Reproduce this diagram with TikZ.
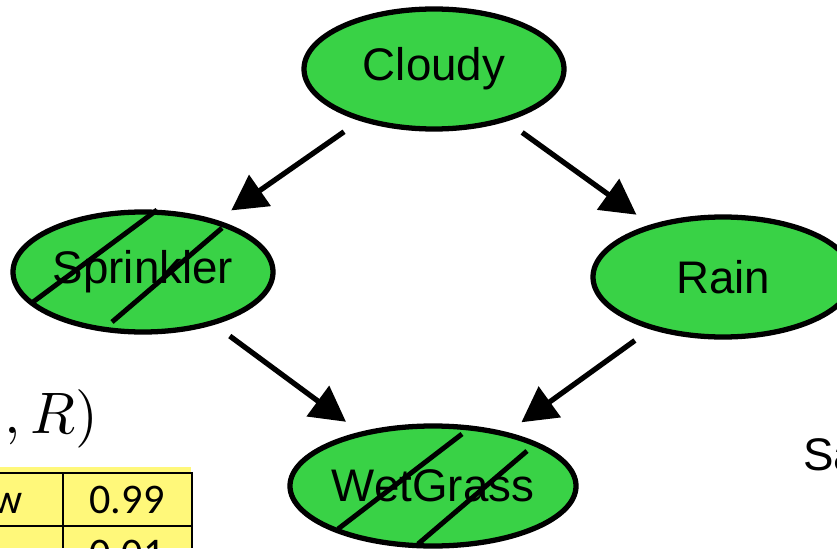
\documentclass[tikz,border=0pt]{standalone}
\usepackage{amsmath}
\usepackage{fontspec}
\newfontfamily\arialf{Liberation Sans}
\newfontfamily\calibrif{Carlito}
\usepackage{tikz}
\usetikzlibrary{arrows.meta,shapes.geometric}
\definecolor{nodegreen}{RGB}{57,210,70}
\definecolor{cptyellow}{RGB}{255,248,122}

\begin{document}
\begin{tikzpicture}
	\useasboundingbox (0,0) rectangle (16.74,10.96);
	\tikzstyle{var}=[ellipse,draw=black,fill=nodegreen,line width=3pt,minimum width=5.2cm,minimum height=2.4cm,inner sep=0pt,font=\arialf\fontsize{26}{31}\selectfont]
	\tikzstyle{edge}=[line width=3pt,-{Triangle[length=0.7cm,width=0.74cm]},shorten <=0.38cm,shorten >=0.34cm]
	\tikzstyle{hatch}=[line width=2.8pt]
	\tikzstyle{cell}=[inner sep=0pt,font=\calibrif\fontsize{24}{29}\selectfont]
	% table (cut off)
	\fill[cptyellow] (0,0) rectangle (3.82,1.62);
	\draw[line width=1.2pt] (0,1.5) -- (3.84,1.5) -- (3.84,0);
	\draw[line width=1.2pt] (1.26,1.5) -- (1.26,0);
	\draw[line width=1.2pt] (0,0.44) -- (3.84,0.44);
	\node[cell,anchor=base east] (t1) at (0.46,0.70) {w};
	\node[cell,anchor=base] (t2) at (2.54,0.70) {0.99};
	\node[cell,anchor=base] (t3) at (2.54,-0.38) {0.01};
	\node[inner sep=0pt,anchor=base east,scale=3.33] (eq) at (1.98,2.3) {$,R)$};
	\node[inner sep=0pt,anchor=base west,font=\arialf\fontsize{26}{31}\selectfont] (sa) at (16.06,1.56) {Sa};
	% network
	\node[var] (c) at (8.68,9.58) {Cloudy};
	\node[var] (s) at (2.86,5.52) {Sprinkler};
	\node[var] (r) at (14.46,5.42) {Rain};
	\node[var] (w) at (8.66,1.24) {WetGrass};
	\draw[hatch] ([shift={(-2.2,-0.6)}]s.center) -- ([shift={(0.28,1.24)}]s.center);
	\draw[hatch] ([shift={(-0.62,-1.0)}]s.center) -- ([shift={(1.58,0.88)}]s.center);
	\draw[hatch] ([shift={(-1.9,-0.86)}]w.center) -- ([shift={(0.58,1.04)}]w.center);
	\draw[hatch] ([shift={(-0.3,-1.16)}]w.center) -- ([shift={(1.88,0.7)}]w.center);
	\draw[edge] (c) -- (s);
	\draw[edge] (c) -- (r);
	\draw[edge] (s) -- (w);
	\draw[edge] (r) -- (w);
\end{tikzpicture}
\end{document}
